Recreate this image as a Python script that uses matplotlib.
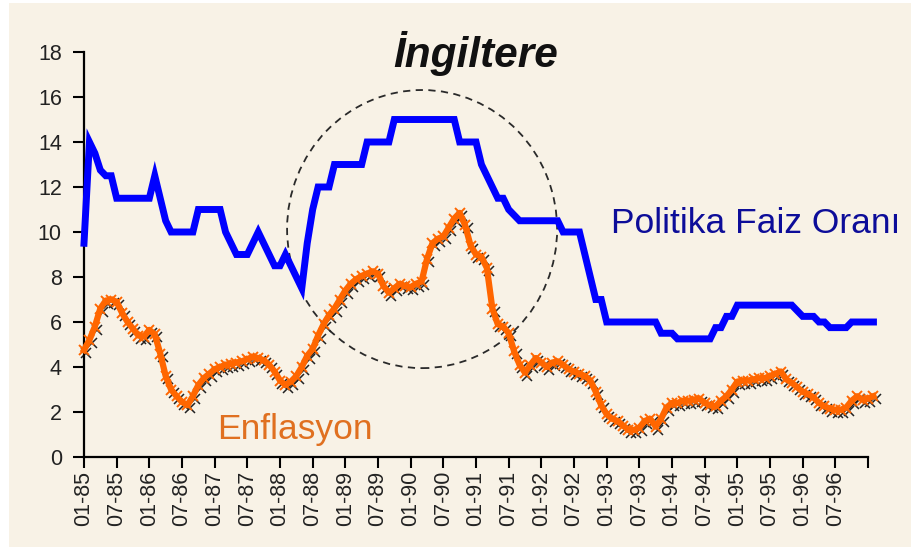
import numpy as np
import matplotlib
matplotlib.use("Agg")
import matplotlib.pyplot as plt
from matplotlib.patches import Ellipse, Rectangle
import matplotlib.transforms as mtransforms

plt.rcParams['font.family'] = ['Liberation Sans', 'DejaVu Sans']

# ---- data (monthly, from 01-85) ----
policy_rate = [
    9.5, 14.0, 13.5, 12.75, 12.5, 12.5, 11.5, 11.5, 11.5, 11.5, 11.5, 11.5,
    11.5, 12.5, 11.5, 10.5, 10.0, 10.0, 10.0, 10.0, 10.0, 11.0, 11.0, 11.0,
    11.0, 11.0, 10.0, 9.5, 9.0, 9.0, 9.0, 9.5, 10.0, 9.5, 9.0, 8.5,
    8.5, 9.0, 8.5, 8.0, 7.5, 9.5, 11.0, 12.0, 12.0, 12.0, 13.0, 13.0,
    13.0, 13.0, 13.0, 13.0, 14.0, 14.0, 14.0, 14.0, 14.0, 15.0, 15.0, 15.0,
    15.0, 15.0, 15.0, 15.0, 15.0, 15.0, 15.0, 15.0, 15.0, 14.0, 14.0, 14.0,
    14.0, 13.0, 12.5, 12.0, 11.5, 11.5, 11.0, 10.75, 10.5, 10.5, 10.5, 10.5,
    10.5, 10.5, 10.5, 10.5, 10.0, 10.0, 10.0, 10.0, 9.0, 8.0, 7.0, 7.0,
    6.0, 6.0, 6.0, 6.0, 6.0, 6.0, 6.0, 6.0, 6.0, 6.0, 5.5, 5.5,
    5.5, 5.25, 5.25, 5.25, 5.25, 5.25, 5.25, 5.25, 5.75, 5.75, 6.25, 6.25,
    6.75, 6.75, 6.75, 6.75, 6.75, 6.75, 6.75, 6.75, 6.75, 6.75, 6.75, 6.5,
    6.25, 6.25, 6.25, 6.0, 6.0, 5.75, 5.75, 5.75, 5.75, 6.0, 6.0, 6.0,
    6.0, 6.0,
]

inflation = [
    4.75, 5.2, 5.8, 6.6, 6.95, 7.0, 6.9, 6.4, 6.0, 5.7, 5.4, 5.35,
    5.65, 5.45, 4.6, 3.6, 3.0, 2.7, 2.45, 2.3, 2.7, 3.2, 3.5, 3.7,
    3.9, 4.0, 4.1, 4.15, 4.2, 4.25, 4.35, 4.45, 4.4, 4.3, 4.1, 3.8,
    3.4, 3.2, 3.35, 3.6, 4.0, 4.5, 4.8, 5.4, 5.9, 6.3, 6.6, 7.0,
    7.4, 7.7, 7.9, 8.05, 8.15, 8.25, 8.15, 7.6, 7.3, 7.5, 7.7, 7.6,
    7.55, 7.7, 7.8, 8.8, 9.5, 9.7, 9.8, 10.2, 10.6, 10.85, 10.3, 9.4,
    9.0, 8.9, 8.4, 6.6, 5.9, 5.8, 5.5, 4.7, 4.1, 3.75, 4.1, 4.4,
    4.2, 4.0, 4.2, 4.25, 4.1, 3.9, 3.8, 3.7, 3.6, 3.4, 2.9, 2.3,
    1.9, 1.7, 1.6, 1.4, 1.2, 1.2, 1.3, 1.6, 1.7, 1.35, 1.7, 2.2,
    2.4, 2.4, 2.5, 2.5, 2.55, 2.6, 2.4, 2.3, 2.25, 2.5, 2.7, 3.0,
    3.35, 3.4, 3.4, 3.45, 3.5, 3.5, 3.6, 3.7, 3.8, 3.45, 3.3, 3.1,
    2.9, 2.8, 2.65, 2.4, 2.25, 2.15, 2.1, 2.1, 2.2, 2.5, 2.7, 2.55,
    2.6, 2.7,
]

tick_labels = [
    "01-85", "07-85", "01-86", "07-86", "01-87", "07-87", "01-88", "07-88",
    "01-89", "07-89", "01-90", "07-90", "01-91", "07-91", "01-92", "07-92",
    "01-93", "07-93", "01-94", "07-94", "01-95", "07-95", "01-96", "07-96", "",
]

title_text = "İngiltere"
rate_label = "Politika Faiz Oranı"
infl_label = "Enflasyon"

# ---- figure ----
W, H = 912, 552
fig = plt.figure(figsize=(W / 100, H / 100), dpi=100, facecolor="white")
cream = "#f8f2e6"
fig.patches.append(Rectangle((9 / W, 5 / H), 1 - 9 / W, 1 - 8 / H,
                             transform=fig.transFigure, facecolor=cream,
                             edgecolor="none", zorder=-10))

ax = fig.add_axes([84 / W, 1 - 457 / H, (868 - 84) / W, (457 - 52) / H])
ax.set_facecolor("none")

x = np.arange(len(policy_rate))
xi = np.arange(len(inflation))

ax.set_xlim(0, 144)
ax.set_ylim(0, 18)

# dashed circle annotation
ax.add_patch(Ellipse((62.1, 10.13), 49.6, 12.36, fill=False,
                     edgecolor="#2a2a2a", linestyle=(0, (4, 3)), lw=1.3,
                     zorder=1, clip_on=False))

# policy rate
ax.plot(x, policy_rate, color="#0000ff", lw=5, solid_joinstyle="miter",
        zorder=3, clip_on=False)

# inflation: black x shadow + orange line with x markers
shadow = mtransforms.offset_copy(ax.transData, fig=fig, x=2.5, y=-3, units="dots")
ax.plot(xi, inflation, linestyle="none", marker="x", ms=6.5, mew=1.1,
        color="#222222", transform=shadow, zorder=2, clip_on=False)
ax.plot(xi, inflation, color="#ff6600", lw=4.5, marker="x", ms=7, mew=1.4,
        zorder=4, clip_on=False)

# axes styling
for s in ["top", "right"]:
    ax.spines[s].set_visible(False)
for s in ["left", "bottom"]:
    ax.spines[s].set_linewidth(1.6)
    ax.spines[s].set_color("black")

ax.set_yticks(np.arange(0, 19, 2))
ax.set_yticklabels([str(v) for v in range(0, 19, 2)])
ax.set_xticks(np.arange(0, 145, 6))
ax.set_xticklabels(tick_labels, rotation=90)
ax.tick_params(axis="y", direction="out", length=8, width=1.5, pad=8,
               labelsize=15.5, labelcolor="#222222")
ax.tick_params(axis="x", direction="out", length=8, width=1.5, pad=2,
               labelsize=15.5, labelcolor="#222222")

# texts
fig.text(476 / W, 1 - 53 / H, title_text, fontsize=30.5, fontweight="bold",
         fontstyle="italic", ha="center", va="center", color="#111111")
ax.text(96.8, 10.36, rate_label, fontsize=25.5, color="#0d0d99",
        ha="left", va="center")
ax.text(24.4, 1.2, infl_label, fontsize=25.5, color="#e07020",
        ha="left", va="center")

fig.savefig("out.png", dpi=100, facecolor="white")
